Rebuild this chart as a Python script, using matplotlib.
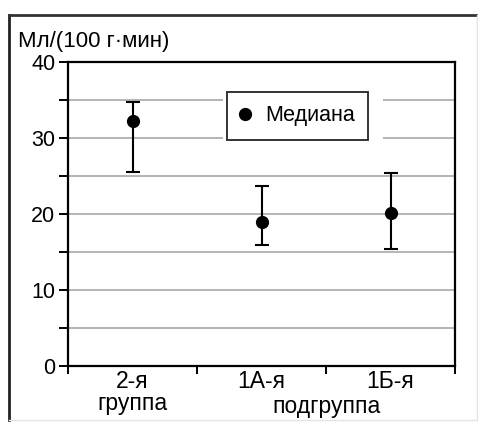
import matplotlib
matplotlib.use("Agg")
import matplotlib.pyplot as plt
from matplotlib.patches import Rectangle
from matplotlib.lines import Line2D
from matplotlib.ticker import MultipleLocator, FixedLocator

# perfusion, median with spread
groups = ["2-я\nгруппа", "1А-я", "1Б-я"]
medians = [32.2, 18.9, 20.1]
lower = [25.5, 15.9, 15.4]
upper = [34.7, 23.7, 25.4]
subgroup_label = "подгруппа"
y_label = "Мл/(100 г·мин)"
legend_label = "Медиана"

plt.rcParams["font.family"] = ["Liberation Sans", "DejaVu Sans"]

fig = plt.figure(figsize=(4.78, 4.22), dpi=100)
ax = fig.add_axes([68 / 478, 56 / 422, 387 / 478, 304 / 422])

x = list(range(len(groups)))
err_lo = [m - l for m, l in zip(medians, lower)]
err_hi = [u - m for m, u in zip(medians, upper)]
ax.errorbar(x, medians, yerr=[err_lo, err_hi], fmt="o", color="black",
            ecolor="black", elinewidth=1.5, capsize=5, capthick=1.5,
            markersize=8.5, zorder=3)

ax.set_xlim(-0.5, len(groups) - 0.5)
ax.set_ylim(0, 40)

# y axis: labelled every 10, gridlines every 5
ax.yaxis.set_major_locator(MultipleLocator(10))
ax.yaxis.set_minor_locator(MultipleLocator(5))
ax.tick_params(axis="y", which="both", direction="out", length=6.5, width=1.4,
               labelsize=15.5, pad=2.5)
ax.grid(axis="y", which="both", color="#b4b4b4", linewidth=1.4)
ax.set_axisbelow(True)

# x axis: category labels between separator ticks
ax.set_xticks(x)
ax.set_xticklabels(groups, fontsize=16.5, linespacing=0.95)
ax.xaxis.set_minor_locator(FixedLocator([-0.5, 0.5, 1.5, 2.5]))
ax.tick_params(axis="x", which="major", length=0, pad=3)
ax.tick_params(axis="x", which="minor", direction="out", length=5.5, width=1.4)
ax.text(1.5, -0.133, subgroup_label, transform=ax.get_xaxis_transform(),
        ha="center", va="center", fontsize=16.5)

for s in ax.spines.values():
    s.set_linewidth(1.6)

# legend with a white margin that cuts the gridlines
ax.add_patch(Rectangle((0.40, 0.73), 0.415, 0.19, transform=ax.transAxes,
                       facecolor="white", edgecolor="none", zorder=1))
handle = Line2D([], [], marker="o", color="black", linestyle="none",
                markersize=8.5)
leg = ax.legend([handle], [legend_label], loc="upper left",
                bbox_to_anchor=(0.411, 0.901), borderaxespad=0,
                fontsize=15.5, frameon=True, fancybox=False, handlelength=0.4,
                handletextpad=0.75, borderpad=0.62)
leg.get_frame().set_edgecolor("black")
leg.get_frame().set_linewidth(1.4)

fig.text(18 / 478, 1 - 42 / 422, y_label, ha="left", va="center", fontsize=16)

# outer frame around the figure
fig.add_artist(Line2D([9 / 478, 9 / 478], [2 / 422, 1 - 15 / 422],
                      color="#222222", linewidth=2))
fig.add_artist(Line2D([9 / 478, 477 / 478], [1 - 15 / 422, 1 - 15 / 422],
                      color="#333333", linewidth=2))
fig.add_artist(Line2D([477 / 478, 477 / 478], [2 / 422, 1 - 15 / 422],
                      color="#e4e4e4", linewidth=1))
fig.add_artist(Line2D([9 / 478, 477 / 478], [2 / 422, 2 / 422],
                      color="#e4e4e4", linewidth=1))

fig.savefig("out.png", dpi=100)
